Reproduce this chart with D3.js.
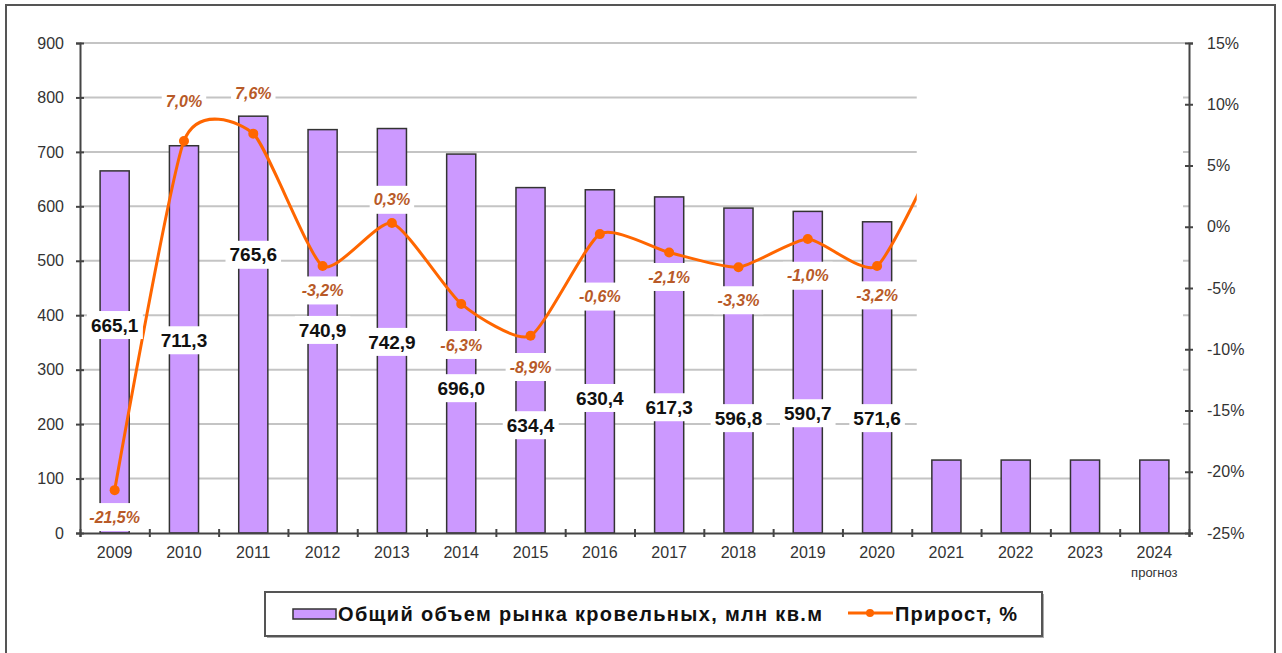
<!DOCTYPE html>
<html>
<head>
<meta charset="utf-8">
<script src="https://cdn.jsdelivr.net/npm/d3@7"></script>
<style>
body{margin:0;background:#fff;}
svg{display:block;font-family:"Liberation Sans",Arial,sans-serif;}
</style>
</head>
<body>
<main></main>
<script>
const years=["2009","2010","2011","2012","2013","2014","2015","2016","2017","2018","2019","2020","2021","2022","2023","2024"];
const volume=[665.1,711.3,765.6,740.9,742.9,696.0,634.4,630.4,617.3,596.8,590.7,571.6,134,134,134,134];
const growth=[-21.5,7.0,7.6,-3.2,0.3,-6.3,-8.9,-0.6,-2.1,-3.3,-1.0,-3.2,7.5]; // last one is mostly hidden
const volTicks=[0,100,200,300,400,500,600,700,800,900];
const growthTicks=[15,10,5,0,-5,-10,-15,-20,-25];
const volName="Общий объем рынка кровельных, млн кв.м";
const growthName="Прирост, %";
const forecastNote="прогноз";
const labelled=12; // only the actual years carry labels
// where the labels sit, in axis units (they were dragged by hand in the source)
const volLabelAt=[382,354,511,373,351,266,198,248,231,211,220,211];
const growthLabelAt=[-23.7,10.2,10.9,-5.2,2.2,-9.65,-11.45,-5.7,-4.1,-6.0,-4.0,-5.6];

const w=1282,h=653;
const plotL=80,plotR=1189,plotT=43,plotB=533;
const comma=v=>v.toFixed(1).replace(".",",");

const svg=d3.select("main").append("svg")
  .attr("width",w)
  .attr("height",h);

svg.append("rect")
  .attr("x",6).attr("y",5)
  .attr("width",1269).attr("height",700)
  .attr("fill","#fff")
  .attr("stroke","#555")
  .attr("stroke-width",2);

const x=d3.scaleBand()
  .domain(years)
  .range([plotL,plotR])
  .paddingInner(0.58)
  .paddingOuter(0.29);
const xIdx=d3.scaleLinear().domain([0,years.length]).range([plotL,plotR]);
const yL=d3.scaleLinear().domain([0,900]).range([plotB,plotT]);
const yR=d3.scaleLinear().domain([-25,15]).range([plotB,plotT]);
const cx=d=>x(d)+x.bandwidth()/2;

// gridlines
svg.append("g")
  .selectAll("line")
  .data(volTicks.filter(v=>v>0))
  .enter()
  .append("line")
  .attr("x1",plotL).attr("x2",plotR)
  .attr("y1",d=>yL(d)).attr("y2",d=>yL(d))
  .attr("stroke","#c4c4c4")
  .attr("stroke-width",2);

// bars
svg.append("g")
  .selectAll("rect")
  .data(volume)
  .enter()
  .append("rect")
  .attr("x",(d,i)=>x(years[i]))
  .attr("y",d=>yL(d))
  .attr("width",x.bandwidth())
  .attr("height",d=>yL(0)-yL(d))
  .attr("fill","#cc99ff")
  .attr("stroke","#333")
  .attr("stroke-width",1.5);

// growth line
const pts=growth.map((v,i)=>[cx(years[i]),yR(v)]);
svg.append("path")
  .attr("d",d3.line().curve(d3.curveCardinal.tension(0.4))(pts))
  .attr("fill","none")
  .attr("stroke","#ff6600")
  .attr("stroke-width",3);
svg.append("g")
  .selectAll("circle")
  .data(pts)
  .enter()
  .append("circle")
  .attr("cx",d=>d[0]).attr("cy",d=>d[1])
  .attr("r",5)
  .attr("fill","#ff6600");

// the source has a blank patch over the forecast part
const coverX=xIdx(years.indexOf("2021"))+5;
svg.append("rect")
  .attr("x",coverX)
  .attr("y",yL(870))
  .attr("width",(plotR-6)-coverX)
  .attr("height",yL(152)-yL(870))
  .attr("fill","#fff");

// labels with white boxes
function boxedLabel(g,tx,ty,txt,size){
  const t=g.append("text")
    .attr("x",tx).attr("y",ty)
    .attr("dy","0.35em")
    .attr("text-anchor","middle")
    .style("font-size",size)
    .style("font-weight","bold")
    .text(txt);
  const b=t.node().getBBox();
  g.insert("rect","text")
    .attr("x",b.x-4).attr("y",ty-14)
    .attr("width",b.width+8).attr("height",28)
    .attr("fill","#fff");
  return t;
}
const labG=svg.append("g");
for(let i=0;i<labelled;i++){
  boxedLabel(labG.append("g"),cx(years[i]),yL(volLabelAt[i]),comma(volume[i]),"19px")
    .attr("fill","#111");
}
for(let i=0;i<labelled;i++){
  boxedLabel(labG.append("g"),cx(years[i]),yR(growthLabelAt[i]),comma(growth[i])+"%","16px")
    .style("font-style","italic")
    .attr("fill","#b85a28");
}

// axes
const axisStyle=g=>{
  g.select(".domain").attr("stroke","#444").attr("stroke-width",2);
  g.selectAll(".tick line").attr("stroke","#444").attr("stroke-width",2);
  g.selectAll("text").style("font-size","16px").attr("fill","#333");
};
svg.append("g")
  .attr("transform","translate("+plotL+",0)")
  .call(d3.axisLeft(yL).tickValues(volTicks).tickSizeOuter(0).tickSize(4).tickPadding(12))
  .call(axisStyle)
  .call(g=>g.selectAll(".tick line").attr("x1",4));
svg.append("g")
  .attr("transform","translate("+plotR+",0)")
  .call(d3.axisRight(yR).tickValues(growthTicks).tickSizeOuter(0).tickSize(4).tickPadding(14).tickFormat(d=>d+"%"))
  .call(axisStyle)
  .call(g=>g.selectAll(".tick line").attr("x1",-4));
svg.append("g")
  .attr("transform","translate(0,"+plotB+")")
  .call(d3.axisBottom(xIdx).tickValues(d3.range(years.length+1)).tickSizeOuter(0).tickSize(4).tickFormat(""))
  .call(axisStyle)
  .call(g=>g.selectAll(".tick line").attr("y1",-4));
const xl=svg.append("g")
  .attr("transform","translate(0,"+plotB+")")
  .call(d3.axisBottom(x).tickSize(0).tickPadding(14))
  .call(axisStyle)
  .call(g=>g.select(".domain").remove());
xl.selectAll(".tick")
  .filter(d=>d==="2024")
  .select("text")
  .append("tspan")
  .attr("x",0)
  .attr("dy","1.45em")
  .style("font-size","13px")
  .text(forecastNote);

// legend
const legend=svg.append("g");
legend.append("rect")
  .attr("x",267).attr("y",594)
  .attr("width",777).attr("height",44)
  .attr("fill","#aaa");
legend.append("rect")
  .attr("x",265).attr("y",592)
  .attr("width",777).attr("height",44)
  .attr("fill","#fff")
  .attr("stroke","#555")
  .attr("stroke-width",2);
legend.append("rect")
  .attr("x",293).attr("y",609)
  .attr("width",43).attr("height",10)
  .attr("fill","#cc99ff")
  .attr("stroke","#333")
  .attr("stroke-width",1.5);
legend.append("text")
  .attr("x",338).attr("y",621)
  .attr("textLength",484)
  .attr("lengthAdjust","spacing")
  .style("font-size","20px")
  .style("font-weight","bold")
  .attr("fill","#111")
  .text(volName);
legend.append("line")
  .attr("x1",848).attr("x2",893)
  .attr("y1",613).attr("y2",613)
  .attr("stroke","#ff6600")
  .attr("stroke-width",3);
legend.append("circle")
  .attr("cx",870).attr("cy",613)
  .attr("r",4)
  .attr("fill","#ff6600");
legend.append("text")
  .attr("x",895).attr("y",621)
  .attr("textLength",122)
  .attr("lengthAdjust","spacing")
  .style("font-size","20px")
  .style("font-weight","bold")
  .attr("fill","#111")
  .text(growthName);
</script>
</body>
</html>
